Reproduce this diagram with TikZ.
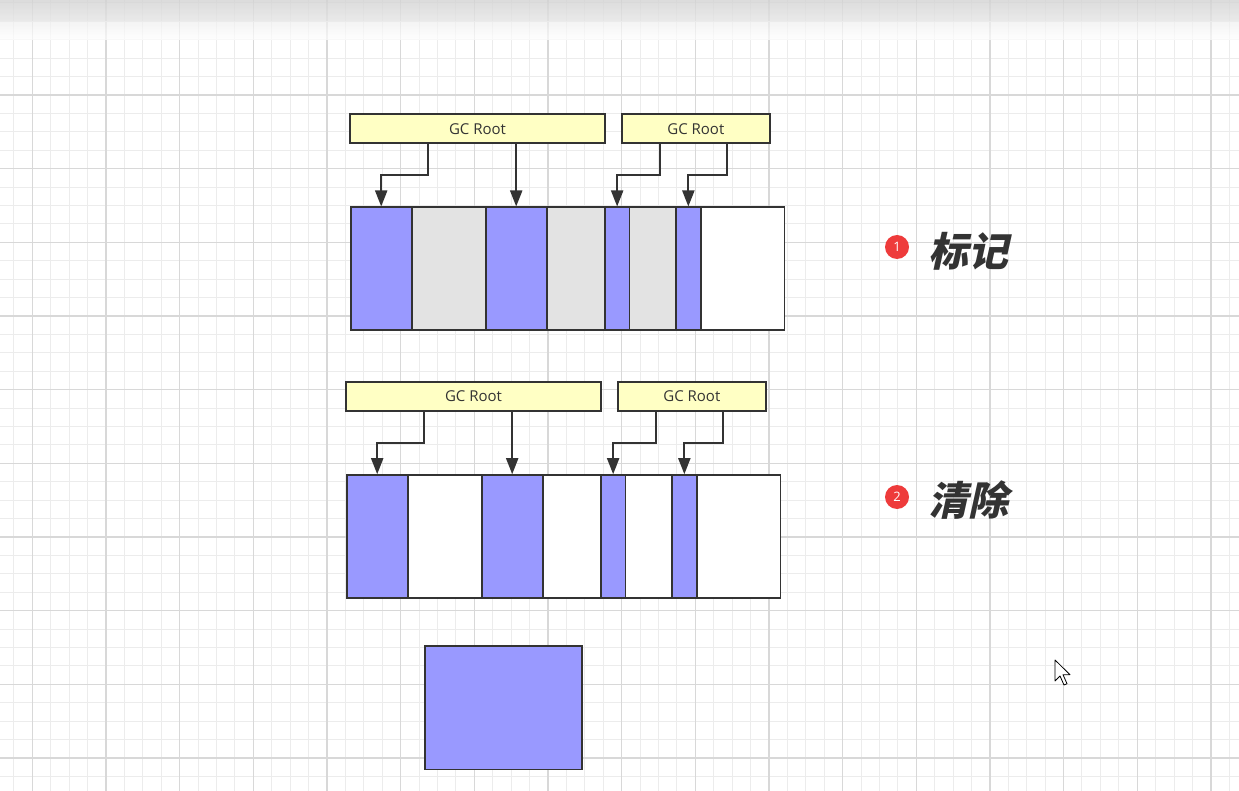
\documentclass[tikz,border=0pt]{standalone}
\usepackage{fontspec}
\setmainfont{Open Sans}
\newfontfamily\cjkfont[FakeSlant=0.22]{Noto Sans CJK SC}
\usetikzlibrary{arrows.meta}
\definecolor{minorgrid}{HTML}{ECECEC}
\definecolor{majorgrid}{HTML}{D8D8D8}
\definecolor{blk}{HTML}{9999FF}
\definecolor{gry}{HTML}{E3E3E3}
\definecolor{yel}{HTML}{FFFFC4}
\definecolor{ink}{HTML}{333333}
\definecolor{badge}{HTML}{EE3B3B}
\tikzset{
  cellbox/.style={draw=ink, line width=1.6pt, inner sep=0pt, minimum height=122.7pt},
  live/.style={cellbox, fill=blk},
  dead/.style={cellbox, fill=gry},
  free/.style={cellbox, fill=white},
  rootbox/.style={draw=ink, line width=1.6pt, fill=yel, inner sep=0pt, minimum height=29.3pt, text=ink, font=\fontsize{15}{15}\selectfont},
  ref/.style={draw=ink, line width=2pt, -{Triangle[width=12pt,length=16pt]}},
  badgenode/.style={circle, fill=badge, text=white, inner sep=0pt, minimum size=24pt, font=\fontsize{13}{13}\selectfont},
  steplabel/.style={text=ink, font=\fontsize{40}{40}\selectfont\cjkfont\bfseries},
}
\newcommand\memrow[2]{%
  \node[rootbox, minimum width=255pt] (#1g1) at (477.5,128.65) {GC Root};
  \node[rootbox, minimum width=148.3pt] (#1g2) at (695.85,128.65) {GC Root};
  \node[live, minimum width=61pt]   (#1c1) at (381.2,268.65) {};
  \node[#2,   minimum width=74pt]   (#1c2) at (448.7,268.65) {};
  \node[live, minimum width=61pt]   (#1c3) at (516.2,268.65) {};
  \node[#2,   minimum width=58.3pt] (#1c4) at (575.85,268.65) {};
  \node[live, minimum width=24.3pt] (#1c5) at (617.15,268.65) {};
  \node[#2,   minimum width=46.7pt] (#1c6) at (652.65,268.65) {};
  \node[live, minimum width=24.7pt] (#1c7) at (688.35,268.65) {};
  \node[free, minimum width=83.6pt] (#1c8) at (742.5,268.65) {};
  \coordinate (#1s1) at (428.3,143.3);
  \coordinate (#1s2) at (516.2,143.3);
  \coordinate (#1s3) at (660,143.3);
  \coordinate (#1s4) at (727.3,143.3);
  \draw[ref] (#1s1) -- ++(0,31.7) -| (#1c1.north);
  \draw[ref] (#1s2) -- (#1c3.north);
  \draw[ref] (#1s3) -- ++(0,31.7) -| (#1c5.north);
  \draw[ref] (#1s4) -- ++(0,31.7) -| (#1c7.north);
}
\begin{document}
\begin{tikzpicture}[x=1pt, y=-1pt]
\useasboundingbox (0,0) rectangle (1239,791);
\fill[white] (0,0) rectangle (1239,791);
% grid
\foreach \i in {-2,...,66} \draw[minorgrid, line width=1pt] ({32.33+18.415*\i},0) -- ({32.33+18.415*\i},791);
\foreach \j in {-6,...,38} \draw[minorgrid, line width=1pt] (0,{95+18.415*\j}) -- (1239,{95+18.415*\j});
\foreach \i in {0,...,16} \draw[majorgrid, line width=1.2pt] ({32.33+73.66*\i},0) -- ({32.33+73.66*\i},791);
\foreach \j in {-1,...,9} \draw[majorgrid, line width=1.2pt] (0,{95+73.66*\j}) -- (1239,{95+73.66*\j});
% top bar
\shade[top color=black!17, bottom color=black!10, opacity=0.8] (0,0) rectangle (1239,22);
\shade[top color=black!6, bottom color=white, opacity=0.7] (0,22) rectangle (1239,40);
% diagrams
\memrow{a}{dead}
\begin{scope}[shift={(-4,267.7)}]
\memrow{b}{free}
\end{scope}
\node[draw=ink, line width=1.6pt, fill=blk, inner sep=0pt, minimum width=156.7pt, minimum height=123.3pt] (blk) at (503.35,707.65) {};
% labels
\node[badgenode] (n1) at (897,247) {1};
\node[steplabel, anchor=west] (t1) at (925,251) {标记};
\node[badgenode] (n2) at (897,497) {2};
\node[steplabel, anchor=west] (t2) at (925,500) {清除};
% cursor
\draw[black, fill=white, line width=0.8pt, line join=round] (1055,660) -- ++(0,21) -- ++(5,-5) -- ++(4,9) -- ++(3,-1.3) -- ++(-4,-9) -- ++(7,0) -- cycle;
\end{tikzpicture}
\end{document}
